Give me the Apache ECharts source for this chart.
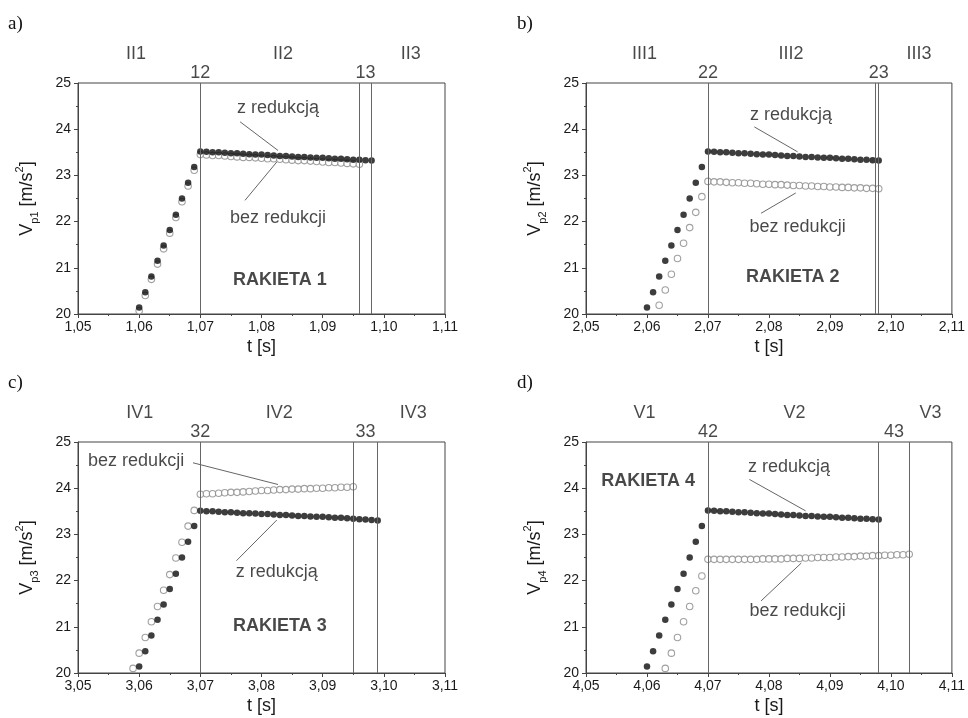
<!DOCTYPE html>
<html><head><meta charset="utf-8">
<script src="https://cdn.jsdelivr.net/npm/echarts@6/dist/echarts.min.js"></script>
<style>html,body{margin:0;padding:0;background:#fff}#c{width:968px;height:718px}</style>
</head><body><div id="c"></div>
<script>
// ---------- DATA ----------
// Panel a (RAKIETA 1)
const tA_red = [1.060,1.061,1.062,1.063,1.064,1.065,1.066,1.067,1.068,1.069,1.070,1.071,1.072,1.073,1.074,1.075,1.076,1.077,1.078,1.079,1.080,1.081,1.082,1.083,1.084,1.085,1.086,1.087,1.088,1.089,1.090,1.091,1.092,1.093,1.094,1.095,1.096,1.097,1.098];
const vA_red = [20.14,20.47,20.81,21.15,21.48,21.82,22.15,22.50,22.84,23.18,23.52,23.51,23.50,23.50,23.49,23.48,23.48,23.47,23.46,23.45,23.45,23.44,23.43,23.42,23.42,23.41,23.40,23.40,23.39,23.38,23.38,23.37,23.36,23.36,23.35,23.34,23.34,23.33,23.32];
const tA_bez = [1.060,1.061,1.062,1.063,1.064,1.065,1.066,1.067,1.068,1.069,1.070,1.071,1.072,1.073,1.074,1.075,1.076,1.077,1.078,1.079,1.080,1.081,1.082,1.083,1.084,1.085,1.086,1.087,1.088,1.089,1.090,1.091,1.092,1.093,1.094,1.095,1.096];
const vA_bez = [20.07,20.40,20.75,21.08,21.41,21.75,22.09,22.43,22.77,23.11,23.45,23.44,23.43,23.43,23.42,23.41,23.40,23.39,23.39,23.38,23.37,23.36,23.36,23.35,23.34,23.33,23.32,23.32,23.31,23.30,23.29,23.28,23.28,23.27,23.26,23.25,23.24];
const sepA = [1.070, 1.096, 1.098];
const phaseA = ['II1','II2','II3'];
const phaseA_t = [1.0595, 1.0835, 1.1044];
const stageA = ['12','13'];
const stageA_t = [1.070, 1.097];

// Panel b (RAKIETA 2)
const tB_red = [2.060,2.061,2.062,2.063,2.064,2.065,2.066,2.067,2.068,2.069,2.070,2.071,2.072,2.073,2.074,2.075,2.076,2.077,2.078,2.079,2.080,2.081,2.082,2.083,2.084,2.085,2.086,2.087,2.088,2.089,2.090,2.091,2.092,2.093,2.094,2.095,2.096,2.097,2.098];
const vB_red = [20.14,20.47,20.81,21.15,21.48,21.82,22.15,22.50,22.84,23.18,23.52,23.51,23.50,23.50,23.49,23.48,23.48,23.47,23.46,23.45,23.45,23.44,23.43,23.42,23.42,23.41,23.40,23.40,23.39,23.38,23.38,23.37,23.36,23.36,23.35,23.34,23.34,23.33,23.32];
const tB_bez = [2.062,2.063,2.064,2.065,2.066,2.067,2.068,2.069,2.070,2.071,2.072,2.073,2.074,2.075,2.076,2.077,2.078,2.079,2.080,2.081,2.082,2.083,2.084,2.085,2.086,2.087,2.088,2.089,2.090,2.091,2.092,2.093,2.094,2.095,2.096,2.097,2.098];
const vB_bez = [20.19,20.52,20.86,21.20,21.53,21.87,22.20,22.54,22.87,22.86,22.86,22.85,22.84,22.84,22.83,22.83,22.82,22.81,22.81,22.80,22.80,22.79,22.78,22.78,22.77,22.77,22.76,22.76,22.75,22.75,22.74,22.74,22.73,22.73,22.72,22.72,22.71];
const sepB = [2.070, 2.0975, 2.098];
const phaseB = ['III1','III2','III3'];
const phaseB_t = [2.0596, 2.0836, 2.1046];
const stageB = ['22','23'];
const stageB_t = [2.070, 2.098];

// Panel c (RAKIETA 3)
const tC_red = [3.060,3.061,3.062,3.063,3.064,3.065,3.066,3.067,3.068,3.069,3.070,3.071,3.072,3.073,3.074,3.075,3.076,3.077,3.078,3.079,3.080,3.081,3.082,3.083,3.084,3.085,3.086,3.087,3.088,3.089,3.090,3.091,3.092,3.093,3.094,3.095,3.096,3.097,3.098,3.099];
const vC_red = [20.14,20.47,20.81,21.15,21.48,21.82,22.15,22.50,22.84,23.18,23.51,23.50,23.50,23.49,23.48,23.48,23.47,23.46,23.46,23.45,23.44,23.44,23.43,23.42,23.42,23.41,23.40,23.40,23.39,23.38,23.38,23.37,23.36,23.36,23.35,23.34,23.33,23.32,23.31,23.30];
const tC_bez = [3.059,3.060,3.061,3.062,3.063,3.064,3.065,3.066,3.067,3.068,3.069,3.070,3.071,3.072,3.073,3.074,3.075,3.076,3.077,3.078,3.079,3.080,3.081,3.082,3.083,3.084,3.085,3.086,3.087,3.088,3.089,3.090,3.091,3.092,3.093,3.094,3.095];
const vC_bez = [20.10,20.43,20.77,21.11,21.44,21.79,22.13,22.49,22.83,23.18,23.52,23.87,23.88,23.88,23.89,23.90,23.91,23.91,23.92,23.93,23.94,23.95,23.95,23.96,23.97,23.97,23.98,23.98,23.99,23.99,24.00,24.00,24.01,24.01,24.02,24.02,24.03];
const sepC = [3.070, 3.095, 3.099];
const phaseC = ['IV1','IV2','IV3'];
const phaseC_t = [3.0601, 3.0829, 3.1048];
const stageC = ['32','33'];
const stageC_t = [3.070, 3.097];

// Panel d (RAKIETA 4)
const tD_red = [4.060,4.061,4.062,4.063,4.064,4.065,4.066,4.067,4.068,4.069,4.070,4.071,4.072,4.073,4.074,4.075,4.076,4.077,4.078,4.079,4.080,4.081,4.082,4.083,4.084,4.085,4.086,4.087,4.088,4.089,4.090,4.091,4.092,4.093,4.094,4.095,4.096,4.097,4.098];
const vD_red = [20.14,20.47,20.81,21.15,21.48,21.82,22.15,22.50,22.84,23.18,23.52,23.51,23.50,23.50,23.49,23.48,23.48,23.47,23.46,23.45,23.45,23.44,23.43,23.42,23.42,23.41,23.40,23.40,23.39,23.38,23.38,23.37,23.36,23.36,23.35,23.34,23.34,23.33,23.32];
const tD_bez = [4.063,4.064,4.065,4.066,4.067,4.068,4.069,4.070,4.071,4.072,4.073,4.074,4.075,4.076,4.077,4.078,4.079,4.080,4.081,4.082,4.083,4.084,4.085,4.086,4.087,4.088,4.089,4.090,4.091,4.092,4.093,4.094,4.095,4.096,4.097,4.098,4.099,4.100,4.101,4.102,4.103];
const vD_bez = [20.10,20.43,20.77,21.11,21.44,21.78,22.10,22.46,22.46,22.46,22.46,22.46,22.46,22.46,22.46,22.46,22.47,22.47,22.47,22.47,22.48,22.48,22.48,22.49,22.49,22.50,22.50,22.50,22.51,22.51,22.52,22.52,22.53,22.53,22.54,22.54,22.55,22.55,22.56,22.56,22.57];
const sepD = [4.070, 4.098, 4.103];
const phaseD = ['V1','V2','V3'];
const phaseD_t = [4.0596, 4.0842, 4.1065];
const stageD = ['42','43'];
const stageD_t = [4.070, 4.1005];

const xMins = [1.05, 2.05, 3.05, 4.05];
const xMaxs = [1.11, 2.11, 3.11, 4.11];
const yMin = 20, yMax = 25;
const yIdx = ['p1','p2','p3','p4'];
const panelLetters = ['a)','b)','c)','d)'];
const rocketNames = ['RAKIETA 1','RAKIETA 2','RAKIETA 3','RAKIETA 4'];
const txtRed = 'z redukcją';
const txtBez = 'bez redukcji';

// ---------- LAYOUT / ANNOTATIONS (data coords) ----------
const F = '"Liberation Sans", Arial, Helvetica, sans-serif';
const TXT = '#1a1a1a';
const grids = [
  {left:78, top:83, width:367, height:231},
  {left:586, top:83, width:368, height:231},
  {left:78, top:442, width:367, height:231},
  {left:586, top:442, width:368, height:231}
];
const letterPos = [[8,15],[517,15],[8,374],[517,374]];
const ann = [
  {red:[1.0827,24.45], redArrow:[[1.0765,24.16],[1.0827,23.54]], bez:[1.0827,22.07], bezArrow:[[1.0773,22.46],[1.0825,23.29]], rk:[1.0830,20.74]},
  {red:[2.0836,24.30], redArrow:[[2.0776,24.05],[2.0847,23.51]], bez:[2.0847,21.89], bezArrow:[[2.0787,22.18],[2.0844,22.62]], rk:[2.0839,20.81]},
  {red:[3.0825,22.19], redArrow:[[3.0759,22.43],[3.0825,23.31]], bez:[3.0595,24.59], bezArrow:[[3.0688,24.55],[3.0827,24.08]], rk:[3.0830,21.02]},
  {red:[4.0833,24.45], redArrow:[[4.0768,24.19],[4.0860,23.51]], bez:[4.0847,21.35], bezArrow:[[4.0787,21.56],[4.0853,22.38]], rk:[4.0602,24.16]}
];

const P = [
  {tr:tA_red, vr:vA_red, tb:tA_bez, vb:vA_bez, sep:sepA, ph:phaseA, pht:phaseA_t, st:stageA, stt:stageA_t},
  {tr:tB_red, vr:vB_red, tb:tB_bez, vb:vB_bez, sep:sepB, ph:phaseB, pht:phaseB_t, st:stageB, stt:stageB_t},
  {tr:tC_red, vr:vC_red, tb:tC_bez, vb:vC_bez, sep:sepC, ph:phaseC, pht:phaseC_t, st:stageC, stt:stageC_t},
  {tr:tD_red, vr:vD_red, tb:tD_bez, vb:vD_bez, sep:sepD, ph:phaseD, pht:phaseD_t, st:stageD, stt:stageD_t}
];

const fmt = v => v.toFixed(2).replace('.', ',');
const axisCol = '#444';

const option = {
  animation:false,
  backgroundColor:'#fff',
  title: panelLetters.map((l,i)=>({text:l, left:letterPos[i][0], top:letterPos[i][1], padding:0,
    textStyle:{fontFamily:'"Liberation Serif", "Times New Roman", serif', fontSize:19, fontWeight:'normal', color:'#111'}})),
  grid: grids.map(g=>Object.assign({show:true, borderColor:axisCol, borderWidth:1, backgroundColor:'transparent'}, g)),
  xAxis: P.map((p,i)=>({
    gridIndex:i, type:'value', min:xMins[i], max:xMaxs[i], interval:0.01,
    axisLine:{lineStyle:{color:axisCol, width:1}},
    axisTick:{length:4, lineStyle:{color:axisCol}},
    minorTick:{show:true, splitNumber:2, length:2, lineStyle:{color:axisCol}},
    splitLine:{show:false},
    axisLabel:{formatter:fmt, fontFamily:F, fontSize:14, color:TXT, margin:6},
    name:'t [s]', nameLocation:'middle', nameGap:24,
    nameTextStyle:{fontFamily:F, fontSize:18, color:TXT}
  })),
  yAxis: P.map((p,i)=>({
    gridIndex:i, type:'value', min:yMin, max:yMax, interval:1,
    axisLine:{lineStyle:{color:axisCol, width:1}},
    axisTick:{length:4, lineStyle:{color:axisCol}},
    minorTick:{show:true, splitNumber:2, length:2, lineStyle:{color:axisCol}},
    splitLine:{show:false},
    axisLabel:{fontFamily:F, fontSize:14, color:TXT, margin:7},
    name:'{v|V}{s|' + yIdx[i] + '}{v| [m/s}{u|2}{v|]}',
    nameLocation:'middle', nameGap:38, nameRotate:90,
    nameTextStyle:{fontFamily:F, color:TXT, rich:{
      v:{fontFamily:F, fontSize:18, color:TXT, lineHeight:26},
      s:{fontFamily:F, fontSize:11, color:TXT, lineHeight:12, verticalAlign:'bottom'},
      u:{fontFamily:F, fontSize:11, color:TXT, lineHeight:12, verticalAlign:'top'}
    }}
  })),
  series: []
};

P.forEach((p,i)=>{
  const a = ann[i];
  // separator lines (vertical, full plot height)
  option.series.push({
    type:'scatter', xAxisIndex:i, yAxisIndex:i, data:[], silent:true,
    markLine:{silent:true, symbol:'none', label:{show:false}, precision:4,
      lineStyle:{color:'#666', width:1, type:'solid'},
      data: p.sep.map(x=>[{coord:[x, yMin]},{coord:[x, yMax]}])}
  });
  // without reduction (open grey circles)
  option.series.push({
    type:'scatter', xAxisIndex:i, yAxisIndex:i, symbol:'circle', symbolSize:6.5,
    itemStyle:{color:'#fff', borderColor:'#888', borderWidth:1.1},
    data: p.tb.map((t,j)=>[t, p.vb[j]]), z:3
  });
  // with reduction (filled black)
  option.series.push({
    type:'scatter', xAxisIndex:i, yAxisIndex:i, symbol:'circle', symbolSize:6.5,
    itemStyle:{color:'#0d0d0d'},
    data: p.tr.map((t,j)=>[t, p.vr[j]]), z:4
  });
  // annotations: texts + arrows
  option.series.push({
    type:'scatter', xAxisIndex:i, yAxisIndex:i, symbolSize:0, silent:true, clip:false, z:5,
    label:{show:true, position:'inside', formatter:'{b}', fontFamily:F, fontSize:18, color:TXT},
    data:[
      {name:txtRed, value:a.red},
      {name:txtBez, value:a.bez},
      {name:rocketNames[i], value:a.rk, label:{fontWeight:'bold', fontSize:18, color:TXT}}
    ],
    markLine:{silent:true, symbol:['none','arrow'], symbolSize:[0,7], label:{show:false}, precision:4,
      lineStyle:{color:'#666', width:1, type:'solid'},
      data:[
        [{coord:a.redArrow[0]},{coord:a.redArrow[1]}],
        [{coord:a.bezArrow[0]},{coord:a.bezArrow[1]}]
      ]}
  });
  // top labels: phases and stage numbers
  option.series.push({
    type:'scatter', xAxisIndex:i, yAxisIndex:i, symbolSize:0, silent:true, clip:false, z:5,
    label:{show:true, position:'inside', formatter:'{b}', fontFamily:F, fontSize:18, color:TXT},
    data: p.ph.map((n,j)=>({name:n, value:[p.pht[j], 25.62]}))
      .concat(p.st.map((n,j)=>({name:n, value:[p.stt[j], 25.22]})))
  });
});

const chart = echarts.init(document.getElementById('c'), null, {renderer:'canvas'});
chart.setOption(option);
</script>
</body></html>
